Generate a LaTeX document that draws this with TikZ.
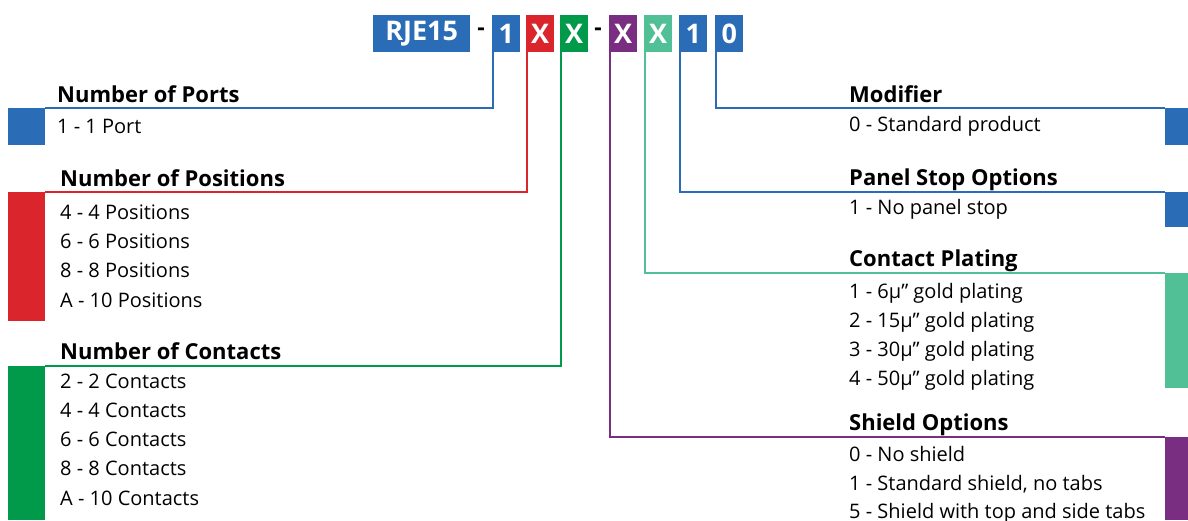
\documentclass[tikz,border=0pt]{standalone}
\usepackage{fontspec}
\setmainfont{Open Sans}
\usetikzlibrary{positioning}
\definecolor{bluex}{HTML}{2A6CB6}
\definecolor{redx}{HTML}{D9252B}
\definecolor{greenx}{HTML}{009A4A}
\definecolor{purplex}{HTML}{7A2E82}
\definecolor{tealx}{HTML}{52C096}
\tikzset{
  code/.style={fill=#1,text=white,font=\bfseries\fontsize{27}{27}\selectfont,minimum height=37pt,minimum width=28pt,inner sep=0pt,anchor=north west},
  bar/.style={fill=#1,minimum width=37pt,inner sep=0pt,anchor=north west},
  rbar/.style={fill=#1,minimum width=23pt,inner sep=0pt,anchor=north west},
  lead/.style={#1,line width=2pt},
  head/.style={font=\bfseries\fontsize{22}{22}\selectfont,anchor=base west,inner sep=0pt},
  item/.style={font=\fontsize{20}{20}\selectfont,anchor=base west,inner sep=0pt}
}
\begin{document}
\begin{tikzpicture}[x=1pt,y=-1pt]
\useasboundingbox (0,0) rectangle (1188,520);
% part number
\node[code=bluex,minimum width=97pt] (base) at (373,15) {RJE15};
\node[font=\bfseries\fontsize{23}{23}\selectfont,inner sep=0pt] (d1) at (481,32) {-};
\node[code=bluex] (ports) at (492,15) {1};
\node[code=redx] (posn) at (526,15) {X};
\node[code=greenx] (cont) at (560,15) {X};
\node[font=\bfseries\fontsize{23}{23}\selectfont,inner sep=0pt] (d2) at (598,32) {-};
\node[code=purplex] (shld) at (609,15) {X};
\node[code=tealx] (plat) at (644,15) {X};
\node[code=bluex] (stop) at (679,15) {1};
\node[code=bluex] (modf) at (715,15) {0};
% left bars
\node[bar=bluex,minimum height=37pt] (portsbar) at (8,108) {};
\node[bar=redx,minimum height=129pt] (posnbar) at (8,192) {};
\node[bar=greenx,minimum height=154pt] (contbar) at (8,366) {};
% right bars
\node[rbar=bluex,minimum height=37pt] (modfbar) at (1165,108) {};
\node[rbar=bluex,minimum height=35pt] (stopbar) at (1165,192) {};
\node[rbar=tealx,minimum height=115pt] (platbar) at (1165,273) {};
\node[rbar=purplex,minimum height=83pt] (shldbar) at (1165,437) {};
% leads
\draw[lead=bluex] ([xshift=1pt]ports.south west) |- (portsbar.north east);
\draw[lead=redx] ([xshift=1pt]posn.south west) |- (posnbar.north east);
\draw[lead=greenx] ([xshift=1pt]cont.south west) |- (contbar.north east);
\draw[lead=purplex] ([xshift=1pt]shld.south west) |- (shldbar.north west);
\draw[lead=tealx] ([xshift=1pt]plat.south west) |- (platbar.north west);
\draw[lead=bluex] ([xshift=1pt]stop.south west) |- (stopbar.north west);
\draw[lead=bluex] ([xshift=1pt]modf.south west) |- (modfbar.north west);
% left texts
\node[head] (portshd) at (57,102) {Number of Ports};
\node[item] at (57,133) {1 - 1 Port};
\node[head] (posnhd) at (60,186) {Number of Positions};
\foreach \t [count=\i] in {4 - 4 Positions,6 - 6 Positions,8 - 8 Positions,A - 10 Positions}
  \node[item] (posn\i) at (60,190+29.3*\i) {\t};
\node[head] (conthd) at (60,359) {Number of Contacts};
\foreach \t [count=\i] in {2 - 2 Contacts,4 - 4 Contacts,6 - 6 Contacts,8 - 8 Contacts,A - 10 Contacts}
  \node[item] (cont\i) at (60,358.7+29.3*\i) {\t};
% right texts
\node[head] (modfhd) at (849,102) {Modifier};
\node[item] at (849,131) {0 - Standard product};
\node[head] (stophd) at (849,185) {Panel Stop Options};
\node[item] at (849,214) {1 - No panel stop};
\node[head] (plathd) at (849,266) {Contact Plating};
\foreach \t [count=\i] in {1 - 6µ” gold plating,2 - 15µ” gold plating,3 - 30µ” gold plating,4 - 50µ” gold plating}
  \node[item] (plat\i) at (849,268.7+29.3*\i) {\t};
\node[head] (shldhd) at (849,430) {Shield Options};
\foreach \t [count=\i] in {0 - No shield,{1 - Standard shield, no tabs},5 - Shield with top and side tabs}
  \node[item] (shld\i) at (849,433+28.5*\i) {\t};
\end{tikzpicture}
\end{document}
